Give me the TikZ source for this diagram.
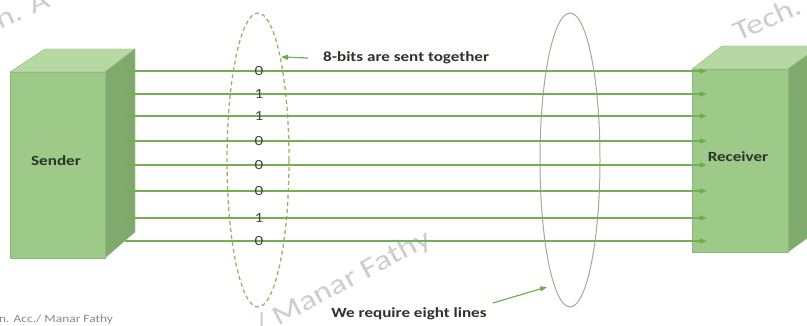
\documentclass[tikz,border=0pt]{standalone}
\usepackage{fontspec}
\setmainfont[FakeStretch=1.22]{Carlito}
\usetikzlibrary{arrows.meta}
\definecolor{frontc}{HTML}{9DCA88}
\definecolor{topc}{HTML}{B6D9A4}
\definecolor{sidec}{HTML}{80A96D}
\definecolor{edgec}{HTML}{8FB87C}
\definecolor{wirec}{HTML}{74B052}
\definecolor{tipc}{HTML}{6FAA4C}
\definecolor{dashc}{HTML}{9CB06C}
\definecolor{ellc}{HTML}{A9A896}
\definecolor{txtc}{HTML}{2A3528}
\definecolor{bitc}{HTML}{45453F}
\definecolor{wmc}{HTML}{CDCDCD}
\definecolor{footc}{HTML}{8A8A8A}
\tikzset{
  frontface/.style={fill=frontc, draw=edgec, line width=0.4pt, inner sep=0pt},
  topface/.style={fill=topc, draw=edgec, line width=0.4pt},
  sideface/.style={fill=sidec, draw=edgec, line width=0.4pt},
  boxlabel/.style={font=\fontsize{14}{16}\selectfont\bfseries, text=txtc, inner sep=0pt},
  wire/.style={draw=wirec, line width=1.3pt},
  wirearrow/.style={wire, -{Triangle[length=7pt,width=5pt,color=tipc]}},
  bit/.style={font=\fontsize{14}{16}\selectfont, text=bitc, inner sep=0pt},
  note/.style={font=\fontsize{14}{16}\selectfont\bfseries, text=txtc, inner sep=0pt},
  pointer/.style={draw=wirec, line width=1.2pt, -{Triangle[length=7pt,width=5pt,color=tipc]}},
  watermark/.style={font=\fontsize{28}{30}\selectfont, text=wmc, inner sep=0pt},
}
\begin{document}
\begin{tikzpicture}[x=1pt,y=-1pt]
\useasboundingbox (0,0) rectangle (807,326);
\clip (0,0) rectangle (807,326);
\fill[white] (0,0) rectangle (807,326);
% watermarks
\node[watermark, rotate=24, anchor=base west] (wm1) at (0,30) {n. A};
\node[watermark, rotate=24, anchor=base west] (wm2) at (738,42) {Tech.};
\node[watermark, rotate=28, anchor=base east] (wm3) at (433,244) {Acc./ Manar Fathy};
% sender box
\fill[topface] (10,72) -- (45,49) -- (135,49) -- (105,72) -- cycle;
\fill[sideface] (105,72) -- (135,49) -- (135,232) -- (105,258) -- cycle;
\node[frontface, minimum width=95pt, minimum height=186pt] (S) at (57.5,165) {};
\node[boxlabel] (SL) at (56,161) {Sender};
% receiver box
\fill[topface] (692,69) -- (722,46) -- (820,46) -- (788,69) -- cycle;
\fill[sideface] (788,69) -- (820,46) -- (820,229) -- (788,252) -- cycle;
\node[frontface, minimum width=96pt, minimum height=183pt] (R) at (740,160.5) {};
\node[boxlabel] (RL) at (738,157) {Receiver};
% ellipses
\draw[dashc, line width=1.3pt, dash pattern=on 4pt off 3pt] (258,160) ellipse [x radius=31, y radius=147];
\node[minimum width=62pt, minimum height=294pt, inner sep=0pt] (E1) at (258,160) {};
\draw[ellc, line width=1pt] (570,160) ellipse [x radius=30, y radius=147];
\node[minimum width=60pt, minimum height=294pt, inner sep=0pt] (E2) at (570,160) {};
% wires and bits
\foreach \y/\b [count=\i] in {71/0,94/1,116/1,141/0,165/0,191/0,218/1,241/0}{
  \coordinate (a\i) at (125,\y);
  \coordinate (b\i) at (R.west |- a\i);
  \draw[wirearrow] (a\i) -- ([xshift=15pt]b\i);
  \node[bit] (bit\i) at (259,\y) {\b};
}
% notes
\node[note, anchor=west] (N1) at (323,58) {8-bits are sent together};
\coordinate (p1) at (281,57);
\draw[pointer] ([xshift=-15pt]N1.west) -- (p1);
\node[note] (N2) at (409,314) {We require eight lines};
\coordinate (p2) at (547,287);
\draw[pointer] ([xshift=6pt,yshift=11pt]N2.east) -- (p2);
% footer
\node[font=\fontsize{11}{13}\selectfont, text=footc, anchor=base west, inner sep=0pt] (F) at (-1,323) {n. Acc./ Manar Fathy};
\end{tikzpicture}
\end{document}
